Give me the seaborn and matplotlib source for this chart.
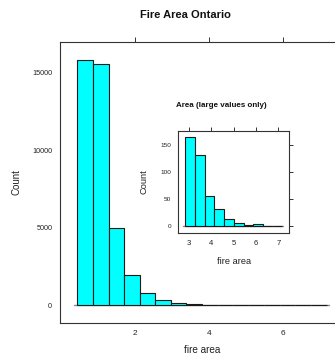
import numpy as np
import pandas as pd
import matplotlib
matplotlib.use("Agg")
import matplotlib.pyplot as plt
import seaborn as sns

# ---- data ----
main_start = 0.447
main_width = 0.4203
main_counts = [15850, 15540, 4990, 1970, 800, 360, 190, 85, 40, 20, 10, 6, 4, 4, 1, 1]

inset_start = 2.84
inset_width = 0.434
inset_counts = [165, 131, 57, 32, 14, 6, 3, 5, 1, 1]

main_xticks = [2, 4, 6]
main_yticks = [0, 5000, 10000, 15000]
inset_xticks = [3, 4, 5, 6, 7]
inset_yticks = [0, 50, 100, 150]

title = "Fire Area Ontario"
inset_title = "Area (large values only)"
xlabel = "fire area"
ylabel = "Count"

sns.set_style("white")
plt.rcParams["font.family"] = ["Liberation Sans", "DejaVu Sans"]

FILL = "#00FFFF"
EDGE = "#1a1a1a"
AXC = "#333333"

W, H = 335, 356
fig = plt.figure(figsize=(W / 100, H / 100), dpi=100)


def make_df(start, width, counts):
    n = len(counts)
    edges = [float(start + width * i) for i in range(n + 1)]
    centers = [(edges[i] + edges[i + 1]) / 2 for i in range(n)]
    return pd.DataFrame({"x": centers, "w": [float(c) for c in counts]}), edges


def style(ax, xlim, ylim, xticks, yticks, xfs, yfs, ticklen):
    ax.set_xlim(*xlim)
    ax.set_ylim(*ylim)
    ax.set_xticks(xticks)
    ax.set_yticks(yticks)
    for s in ax.spines.values():
        s.set_visible(True)
        s.set_color(AXC)
        s.set_linewidth(0.8)
    ax.tick_params(axis="both", direction="out", length=ticklen, width=0.7,
                   color=AXC, pad=2, top=True, right=True,
                   labeltop=False, labelright=False)
    ax.tick_params(axis="x", labelsize=xfs, labelcolor="#222222")
    ax.tick_params(axis="y", labelsize=yfs, labelcolor="#222222")
    ax.grid(False)


def place_labels(ax, xl, yl, fs_x, fs_y, xpos, ypos):
    ax.set_xlabel(xl, fontsize=fs_x, color="#222222", va="center")
    ax.set_ylabel(yl, fontsize=fs_y, color="#222222", va="center")
    ax.xaxis.set_label_coords(0.5, xpos)
    ax.yaxis.set_label_coords(ypos, 0.5)


# ---- main histogram ----
ax = fig.add_axes([60 / W, (H - 322.7) / H, (344 - 60) / W, (322.7 - 42.3) / H])
dfm, em = make_df(main_start, main_width, main_counts)
sns.histplot(data=dfm, x="x", weights="w", bins=em, ax=ax, color=FILL,
             edgecolor=EDGE, linewidth=0.8, alpha=1, zorder=3)
ax.axhline(0, xmin=0.049, xmax=0.947, color="#888888", lw=1.0, zorder=2)
rng = em[-1] - em[0]
style(ax, (em[0] - 0.07 * rng, em[-1] + 0.07 * rng),
      (-0.07 * max(main_counts), 1.07 * max(main_counts)),
      main_xticks, main_yticks, 6, 5.2, 3.6)
place_labels(ax, xlabel, ylabel, 7.2, 7, -(350 - 322.7) / 280.4, (17 - 60) / 284)
ax.set_yticklabels([str(v) for v in main_yticks])

fig.text(185 / W, 1 - 15 / H, title, ha="center", va="center",
         fontsize=8, fontweight="bold", color="#111111")

# ---- inset histogram ----
ai = fig.add_axes([178.3 / W, (H - 232.7) / H, 111 / W, 102 / H])
dfi, ei = make_df(inset_start, inset_width, inset_counts)
sns.histplot(data=dfi, x="x", weights="w", bins=ei, ax=ai, color=FILL,
             edgecolor=EDGE, linewidth=0.8, alpha=1, zorder=3)
ai.axhline(0, xmin=0.045, xmax=0.946, color="#888888", lw=1.0, zorder=2)
rng_i = ei[-1] - ei[0]
style(ai, (ei[0] - 0.07 * rng_i, ei[-1] + 0.07 * rng_i),
      (-0.07 * max(inset_counts), 1.07 * max(inset_counts)),
      inset_xticks, inset_yticks, 5.5, 4.6, 3.0)
place_labels(ai, xlabel, ylabel, 6.7, 6.7, -(261.7 - 232.7) / 102, (144 - 178.3) / 111)
ai.text(0.385, 1.25, inset_title, transform=ai.transAxes, ha="center",
        va="center", fontsize=5.8, fontweight="bold", color="#111111")

fig.savefig("out.png", dpi=100, facecolor="white")
